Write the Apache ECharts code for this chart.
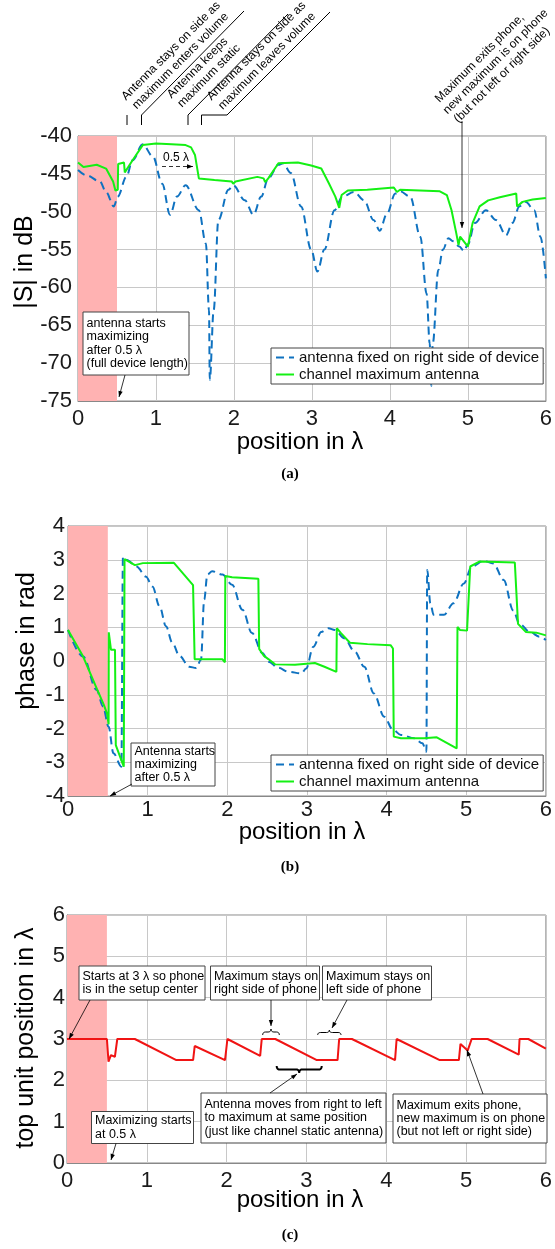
<!DOCTYPE html>
<html>
<head>
<meta charset="utf-8">
<script src="https://cdn.jsdelivr.net/npm/echarts@6/dist/echarts.min.js"></script>
<style>
html, body { margin: 0; padding: 0; background: #fff; }
#chart { width: 555px; height: 1249px; }
</style>
</head>
<body>
<div id="chart"></div>
<script>
// tick labels
var positionTicks = [0, 1, 2, 3, 4, 5, 6];
var magTicks = [-75, -70, -65, -60, -55, -50, -45, -40];
var phaseTicks = [-4, -3, -2, -1, 0, 1, 2, 3, 4];
var topTicks = [0, 1, 2, 3, 4, 5, 6];
// antenna does not maximize before 0.5 lambda
var shadeRange = [0, 0.5];

// (a) |S| in dB, antenna fixed on right side
var magFixedX = [0, 0.11, 0.28, 0.36, 0.46, 0.51, 0.62, 0.70, 0.83, 0.96, 1.08, 1.18, 1.27, 1.38, 1.55, 1.64, 1.68, 1.69, 1.74, 1.80, 1.93, 1.99, 2.14, 2.25, 2.35, 2.44, 2.57, 2.63, 2.73, 2.86, 2.99, 3.07, 3.16, 3.29, 3.39, 3.54, 3.67, 3.79, 3.87, 3.96, 4.07, 4.13, 4.26, 4.39, 4.47, 4.51, 4.53, 4.55, 4.62, 4.68, 4.75, 4.81, 4.89, 4.95, 5.00, 5.09, 5.23, 5.36, 5.49, 5.57, 5.66, 5.74, 5.85, 5.93, 6.00];
var magFixedY = [-44.5, -45.2, -46.0, -47.4, -49.3, -48.0, -45.4, -43.2, -41.1, -42.7, -46.3, -50.4, -48.0, -46.5, -49.8, -54.2, -63.0, -72.2, -63.0, -51.1, -47.1, -46.5, -48.5, -50.4, -48.0, -45.6, -43.8, -43.6, -44.9, -49.3, -55.0, -57.9, -55.0, -49.8, -48.0, -47.4, -48.5, -51.1, -52.5, -50.3, -47.6, -47.3, -48.0, -53.3, -60.8, -67.4, -73.0, -67.4, -57.7, -55.0, -53.5, -53.9, -54.6, -55.2, -54.3, -51.5, -49.8, -51.1, -53.1, -51.5, -49.3, -48.7, -49.8, -53.3, -58.8];
// (a) |S| in dB, channel maximum antenna
var magMaxX = [0, 0.07, 0.24, 0.36, 0.45, 0.48, 0.51, 0.515, 0.59, 0.60, 0.70, 0.83, 1.00, 1.20, 1.38, 1.45, 1.50, 1.55, 1.75, 1.97, 1.99, 2.02, 2.30, 2.38, 2.40, 2.44, 2.57, 2.82, 2.99, 3.12, 3.22, 3.30, 3.35, 3.38, 3.46, 3.71, 4.05, 4.07, 4.09, 4.13, 4.64, 4.73, 4.79, 4.85, 4.88, 4.90, 5.00, 5.06, 5.15, 5.26, 5.41, 5.62, 5.63, 5.70, 5.83, 6.00];
var magMaxY = [-43.5, -44.1, -43.8, -44.3, -46.0, -47.2, -47.1, -43.7, -43.5, -44.8, -43.2, -41.2, -41.0, -41.1, -41.2, -41.5, -42.5, -45.6, -45.8, -46.0, -46.3, -46.0, -45.4, -45.6, -46.1, -45.6, -43.6, -43.5, -43.9, -44.3, -46.3, -48.0, -49.5, -47.8, -47.2, -47.1, -46.8, -46.7, -47.4, -47.1, -47.3, -47.8, -49.8, -52.8, -54.4, -53.3, -54.6, -51.5, -49.3, -48.5, -48.1, -47.6, -49.3, -48.7, -48.4, -48.2];

// (b) phase in rad, antenna fixed on right side
var phaseFixedX = [0, 0.19, 0.36, 0.44, 0.51, 0.57, 0.67, 0.69, 0.74, 0.86, 0.98, 1.06, 1.15, 1.23, 1.31, 1.40, 1.52, 1.61, 1.67, 1.71, 1.75, 1.81, 1.94, 2.06, 2.19, 2.31, 2.44, 2.52, 2.64, 2.77, 2.93, 2.99, 3.08, 3.18, 3.27, 3.35, 3.47, 3.60, 3.72, 3.84, 3.97, 4.08, 4.18, 4.35, 4.45, 4.50, 4.51, 4.55, 4.59, 4.72, 4.84, 4.97, 5.07, 5.22, 5.34, 5.47, 5.59, 5.67, 5.80, 5.92, 6.00];
var phaseFixedY = [0.92, 0.13, -0.86, -1.35, -1.95, -2.73, -3.13, 3.09, 2.99, 2.80, 2.50, 2.21, 1.62, 1.03, 0.54, 0.15, -0.17, -0.21, 0.04, 1.82, 2.56, 2.66, 2.56, 2.26, 1.52, 0.83, 0.24, -0.02, -0.20, -0.32, -0.37, -0.22, 0.42, 0.86, 0.97, 0.92, 0.67, 0.28, -0.17, -0.96, -1.65, -2.04, -2.19, -2.29, -2.44, -2.69, 2.70, 1.71, 1.37, 1.37, 1.71, 2.30, 2.80, 2.97, 2.89, 2.40, 1.50, 1.10, 0.86, 0.72, 0.62];
// (b) phase in rad, channel maximum antenna
var phaseMaxX = [0, 0.19, 0.36, 0.45, 0.49, 0.51, 0.512, 0.54, 0.59, 0.60, 0.70, 0.71, 0.84, 0.94, 1.33, 1.57, 1.59, 1.94, 1.97, 1.975, 2.06, 2.39, 2.40, 2.46, 2.52, 2.60, 2.85, 3.10, 3.22, 3.37, 3.375, 3.43, 3.54, 3.76, 4.05, 4.08, 4.09, 4.18, 4.47, 4.63, 4.88, 4.89, 4.92, 5.01, 5.05, 5.17, 5.61, 5.65, 5.75, 5.88, 6.00];
var phaseMaxY = [0.92, 0.13, -0.81, -1.30, -1.56, -1.88, 0.85, 0.33, 0.33, -2.49, -3.13, 3.02, 2.84, 2.90, 2.91, 2.25, 0.05, 0.05, -0.04, 2.52, 2.48, 2.44, 0.36, 0.15, 0.05, -0.10, -0.11, -0.06, -0.17, -0.32, 0.97, 0.82, 0.54, 0.50, 0.47, 0.37, -2.24, -2.29, -2.29, -2.26, -2.59, 1.01, 0.92, 0.90, 2.80, 2.95, 2.92, 1.10, 0.86, 0.84, 0.76];

// (c) top unit position in lambda
var topUnitX = [0, 0.50, 0.52, 0.55, 0.60, 0.62, 0.63, 0.85, 1.37, 1.58, 1.60, 1.98, 2.01, 2.42, 2.44, 2.61, 3.13, 3.39, 3.41, 3.57, 4.11, 4.13, 4.67, 4.91, 4.93, 5.02, 5.07, 5.27, 5.66, 5.67, 5.78, 6.00];
var topUnitY = [3.00, 3.00, 2.45, 2.61, 2.57, 2.53, 3.00, 3.00, 2.49, 2.49, 2.83, 2.49, 3.00, 2.59, 3.00, 3.00, 2.49, 2.49, 3.00, 3.00, 2.49, 3.00, 2.49, 2.49, 2.88, 2.72, 3.00, 3.00, 2.62, 3.00, 3.00, 2.77];

var NAME_FIXED = 'antenna fixed on right side of device';
var NAME_MAX = 'channel maximum antenna';
var BLUE = '#0f72c0';
var GREEN = '#14f014';
var RED = '#f01414';
var PINK = '#ffb2b2';
var FONT = 'Liberation Sans';

function zip(xs, ys) {
    return xs.map(function (x, i) { return [x, ys[i]]; });
}

var myChart = echarts.init(document.getElementById('chart'));

function xAxisOf(idx, margin) {
    return {
        type: 'value', gridIndex: idx,
        min: positionTicks[0], max: positionTicks[positionTicks.length - 1], interval: 1,
        axisLine: { show: true, onZero: false, lineStyle: { color: '#888' } },
        axisTick: { show: false },
        axisLabel: { fontSize: 22, color: '#1a1a1a', fontFamily: FONT, margin: margin },
        splitLine: { show: true, lineStyle: { color: '#c8c8c8', width: 1 } }
    };
}
function yAxisOf(idx, ticks, margin) {
    return {
        type: 'value', gridIndex: idx,
        min: ticks[0], max: ticks[ticks.length - 1], interval: ticks[1] - ticks[0],
        axisLine: { show: true, onZero: false, lineStyle: { color: '#888' } },
        axisTick: { show: false },
        axisLabel: { fontSize: 22, color: '#1a1a1a', fontFamily: FONT, margin: margin },
        splitLine: { show: true, lineStyle: { color: '#c8c8c8', width: 1 } }
    };
}
var shade = {
    silent: true,
    itemStyle: { color: PINK, opacity: 1 },
    data: [[{ xAxis: shadeRange[0] }, { xAxis: shadeRange[1] }]]
};
function fixedSeries(idx, data) {
    return {
        name: NAME_FIXED, type: 'line', xAxisIndex: idx, yAxisIndex: idx,
        data: data, symbol: 'none', smooth: 0.35, smoothMonotone: 'x',
        lineStyle: { color: BLUE, width: 2, type: [8, 5] },
        itemStyle: { color: BLUE },
        markArea: shade, z: 3
    };
}
function maxSeries(idx, data) {
    return {
        name: NAME_MAX, type: 'line', xAxisIndex: idx, yAxisIndex: idx,
        data: data, symbol: 'none',
        lineStyle: { color: GREEN, width: 2 },
        itemStyle: { color: GREEN }, z: 4
    };
}
function legendAt(top) {
    return {
        orient: 'vertical', left: 271, top: top,
        data: [NAME_FIXED, NAME_MAX],
        itemWidth: 18, itemHeight: 14, itemGap: 2,
        padding: [2, 4, 2, 4],
        backgroundColor: '#fff', borderColor: '#444', borderWidth: 1, borderRadius: 0,
        // hide the symbol, keep only the line sample
        itemStyle: { opacity: 0, color: 'rgba(0,0,0,0)', borderWidth: 0 },
        textStyle: { fontSize: 15, color: '#111', fontFamily: FONT },
        selectedMode: false
    };
}

// ---- annotations ----
var ann = [];
function txt(x, y, s, size, extra) {
    var st = { text: s, x: 0, y: 0, fill: '#000', fontSize: size, fontFamily: FONT,
        textAlign: 'center', textVerticalAlign: 'middle', align: 'center', verticalAlign: 'middle' };
    var el = { type: 'text', x: x, y: y, z: 100, style: st };
    if (extra) {
        for (var k in extra) {
            if (k === 'rotation') el.rotation = extra[k]; else st[k] = extra[k];
        }
    }
    ann.push(el);
}
function poly(points, width, dash) {
    ann.push({ type: 'polyline', z: 100, shape: { points: points },
        style: { stroke: '#000', lineWidth: width || 1, fill: null, lineDash: dash || null } });
}
function arrow(x1, y1, x2, y2, dash) {
    poly([[x1, y1], [x2, y2]], 0.8, dash);
    var a = Math.atan2(y2 - y1, x2 - x1), L = 6, W = 2.2;
    var bx = x2 - L * Math.cos(a), by = y2 - L * Math.sin(a);
    ann.push({ type: 'polygon', z: 101, shape: { points: [[x2, y2],
        [bx + W * Math.sin(a), by - W * Math.cos(a)], [bx - W * Math.sin(a), by + W * Math.cos(a)]] },
        style: { fill: '#000' } });
}
function box(x, y, w, h, lines) {
    ann.push({ type: 'rect', z: 100, shape: { x: x, y: y, width: w, height: h },
        style: { fill: '#fff', stroke: '#444', lineWidth: 1 } });
    ann.push({ type: 'text', z: 101, x: x + 3.5, y: y + h / 2,
        style: { text: lines.join('\n'), fill: '#000', fontSize: 12.5, fontFamily: FONT, lineHeight: 13.3,
            textAlign: 'left', textVerticalAlign: 'middle', align: 'left', verticalAlign: 'middle' } });
}
// curly brace drawn as a sampled polyline
function brace(xa, xb, yEnd, yTip, width) {
    var ym = (yEnd + yTip) / 2, xm = (xa + xb) / 2, r = 3;
    var segs = [
        [[xa, yEnd], [xa, ym], [xa + r, ym]],
        [[xm - r, ym], [xm, ym], [xm, yTip]],
        [[xm, yTip], [xm, ym], [xm + r, ym]],
        [[xb - r, ym], [xb, ym], [xb, yEnd]]
    ];
    var pts = [];
    segs.forEach(function (s) {
        for (var i = 0; i <= 6; i++) {
            var t = i / 6, u = 1 - t;
            pts.push([u * u * s[0][0] + 2 * u * t * s[1][0] + t * t * s[2][0],
                      u * u * s[0][1] + 2 * u * t * s[1][1] + t * t * s[2][1]]);
        }
    });
    poly(pts, width || 1);
}

var R45 = Math.PI / 4;
// leader lines above panel (a)
poly([[127, 115], [127, 125]]);
poly([[141.5, 125], [141.5, 115], [244, 11]]);
poly([[188, 125], [188, 115], [288, 14]]);
poly([[201.5, 125], [201.5, 115], [227, 115], [330, 12]]);
txt(171, 51, 'Antenna stays on side as', 12, { rotation: R45 });
txt(180.5, 61, 'maximum enters volume', 12, { rotation: R45 });
txt(197.5, 68, 'Antenna keeps', 12, { rotation: R45 });
txt(209, 76, 'maximum static', 12, { rotation: R45 });
txt(256.5, 51, 'Antenna stays on side as', 12, { rotation: R45 });
txt(267, 61, 'maximum leaves volume', 12, { rotation: R45 });
txt(479.7, 58.3, 'Maximum exits phone,', 12, { rotation: R45 });
txt(495.6, 61.7, 'new maximum is on phone', 12, { rotation: R45 });
txt(502, 75, '(but not left or right side)', 12, { rotation: R45 });
arrow(462, 121, 462, 228);
txt(176, 157.5, '0.5 λ', 12);
arrow(162, 166.5, 193, 166.5, [4, 3]);
box(83, 312, 106, 63, ['antenna starts', 'maximizing', 'after 0.5 λ', '(full device length)']);
arrow(125, 375, 119, 397);

// panel (b)
box(131, 743, 84, 43, ['Antenna starts', 'maximizing', 'after 0.5 λ']);
arrow(132, 784, 110, 796);

// panel (c)
box(79, 966, 126, 34, ['Starts at 3 λ so phone', 'is in the setup center']);
arrow(90, 1000, 69, 1039);
box(210.5, 966, 109, 34, ['Maximum stays on', 'right side of phone']);
arrow(271, 1000, 271, 1026);
brace(262.7, 279.3, 1035, 1029, 1);
box(322.5, 966, 109, 34, ['Maximum stays on', 'left side of phone']);
arrow(347, 1000, 332, 1028);
brace(317.7, 341, 1035, 1030, 1);
brace(276.7, 321.7, 1066, 1073, 2);
box(201, 1093, 185, 50, ['Antenna moves from right to left', 'to maximum at same position', '(just like channel static antenna)']);
arrow(270, 1093, 297, 1074);
box(393, 1094, 154, 49, ['Maximum exits phone,', 'new maximum is on phone', '(but not left or right side)']);
arrow(483, 1094, 467, 1050);
box(91.5, 1111.5, 102, 32, ['Maximizing starts', 'at 0.5 λ']);
arrow(116, 1143.5, 111, 1160);

// axis titles and captions
txt(300, 442, 'position in λ', 24);
txt(302, 832, 'position in λ', 24);
txt(300, 1200, 'position in λ', 24);
txt(25, 262, '|S| in dB', 25, { rotation: Math.PI / 2 });
txt(27, 641, 'phase in rad', 25, { rotation: Math.PI / 2 });
txt(26, 1038, 'top unit position in λ', 25, { rotation: Math.PI / 2 });
txt(290, 474, '(a)', 15, { fontFamily: 'Liberation Serif', fontWeight: 'bold' });
txt(290, 867, '(b)', 15, { fontFamily: 'Liberation Serif', fontWeight: 'bold' });
txt(290, 1235, '(c)', 15, { fontFamily: 'Liberation Serif', fontWeight: 'bold' });

var gridStyle = { show: true, borderColor: '#888', borderWidth: 1, backgroundColor: '#fff' };
var option = {
    animation: false,
    backgroundColor: '#fff',
    grid: [
        Object.assign({ left: 78, top: 136, width: 472, height: 265 }, gridStyle),
        Object.assign({ left: 68, top: 526, width: 482, height: 270 }, gridStyle),
        Object.assign({ left: 67, top: 915, width: 483, height: 248 }, gridStyle)
    ],
    xAxis: [xAxisOf(0, 7), xAxisOf(1, 3), xAxisOf(2, 7)],
    yAxis: [yAxisOf(0, magTicks, 6), yAxisOf(1, phaseTicks, 3), yAxisOf(2, topTicks, 2)],
    legend: [legendAt(348), legendAt(755)],
    series: [
        fixedSeries(0, zip(magFixedX, magFixedY)),
        maxSeries(0, zip(magMaxX, magMaxY)),
        fixedSeries(1, zip(phaseFixedX, phaseFixedY)),
        maxSeries(1, zip(phaseMaxX, phaseMaxY)),
        {
            name: 'top unit position', type: 'line', xAxisIndex: 2, yAxisIndex: 2,
            data: zip(topUnitX, topUnitY), symbol: 'none',
            lineStyle: { color: RED, width: 2 }, itemStyle: { color: RED },
            markArea: shade, z: 3
        }
    ],
    graphic: ann
};

myChart.setOption(option);
</script>
</body>
</html>
